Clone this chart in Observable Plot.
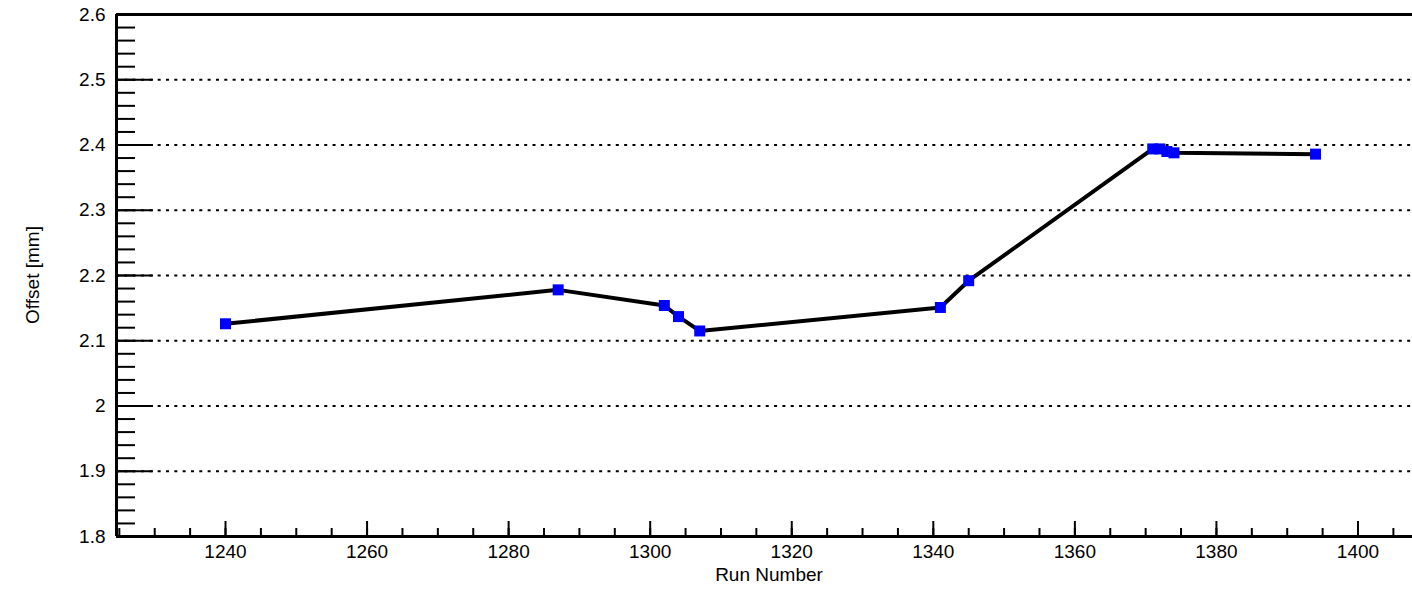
<!DOCTYPE html>
<html>
<head>
<meta charset="utf-8">
<script src="https://cdn.jsdelivr.net/npm/d3@7"></script>
<script src="https://cdn.jsdelivr.net/npm/@observablehq/plot@0.6"></script>
<style>
  html, body { margin: 0; padding: 0; background: #fff; }
  #chart svg { display: block; }
</style>
</head>
<body>
<div id="chart"></div>
<script>
const runs = [1240, 1287, 1302, 1304, 1307, 1341, 1345, 1371, 1372, 1373, 1374, 1394];
const offsets = [2.126, 2.178, 2.154, 2.137, 2.115, 2.151, 2.192, 2.394, 2.394, 2.390, 2.388, 2.386];

const xMajorTicks = [1240, 1260, 1280, 1300, 1320, 1340, 1360, 1380, 1400];
const xMinorTicks = d3.range(1225, 1410, 5);
const yMajorTicks = [1.8, 1.9, 2.0, 2.1, 2.2, 2.3, 2.4, 2.5, 2.6];
const yMinorTicks = d3.range(0, 41).map(i => +(1.8 + i * 0.02).toFixed(2));
const xTitle = "Run Number";
const yTitle = "Offset [mm]";

const data = runs.map((r, i) => ({run: r, offset: offsets[i]}));

const W = 1412, H = 589;
const mL = 116, mT = 14, mB = 53, mR = 0;
const xDomain = [1224.6, 1407.7];
const yDomain = [1.8, 2.6];
const plotW = W - mL - mR, plotH = H - mT - mB;
const font = "'Liberation Sans', Arial, Helvetica, sans-serif";

const chart = Plot.plot({
  width: W,
  height: H,
  marginLeft: mL,
  marginRight: mR,
  marginTop: mT,
  marginBottom: mB,
  style: {fontFamily: font, background: "#fff", color: "#000"},
  x: {domain: xDomain, axis: null},
  y: {domain: yDomain, axis: null},
  marks: [
    // dotted horizontal grid
    Plot.ruleY(yMajorTicks.filter(v => v > 1.8 && v < 2.6), {
      stroke: "#000", strokeWidth: 2, strokeDasharray: "3,5.33"
    }),
    // y ticks (inward)
    Plot.tickY(yMinorTicks, {y: d => d, stroke: "#000", strokeWidth: 2, insetRight: plotW - 19}),
    Plot.tickY(yMajorTicks, {y: d => d, stroke: "#000", strokeWidth: 2, insetRight: plotW - 37}),
    // x ticks (inward)
    Plot.tickX(xMinorTicks, {x: d => d, stroke: "#000", strokeWidth: 2, insetTop: plotH - 8}),
    Plot.tickX(xMajorTicks, {x: d => d, stroke: "#000", strokeWidth: 2, insetTop: plotH - 15}),
    // frame lines
    Plot.ruleX([xDomain[0]], {stroke: "#000", strokeWidth: 3}),
    Plot.ruleY([yDomain[0], yDomain[1]], {stroke: "#000", strokeWidth: 3}),
    // axes labels
    Plot.axisY(yMajorTicks, {anchor: "left", tickSize: 0, tickPadding: 11, fontSize: 19,
      tickFormat: d => String(d), fill: "#000", label: null}),
    Plot.axisX(xMajorTicks, {anchor: "bottom", tickSize: 0, tickPadding: 8, fontSize: 19,
      tickFormat: d => String(d), fill: "#000", label: null}),
    // data
    Plot.line(data, {x: "run", y: "offset", stroke: "#000", strokeWidth: 4}),
    Plot.dot(data, {x: "run", y: "offset", symbol: "square", r: 6.2, fill: "#0000ff", stroke: "none"})
  ]
});

const svg = d3.select(chart);
svg.append("text")
  .attr("x", 769).attr("y", 581)
  .attr("text-anchor", "middle")
  .attr("font-size", 19)
  .attr("font-family", font)
  .attr("fill", "#000")
  .text(xTitle);
svg.append("text")
  .attr("transform", "translate(39,275) rotate(-90)")
  .attr("text-anchor", "middle")
  .attr("font-size", 19)
  .attr("font-family", font)
  .attr("fill", "#000")
  .text(yTitle);

document.getElementById("chart").appendChild(chart);
</script>
</body>
</html>
